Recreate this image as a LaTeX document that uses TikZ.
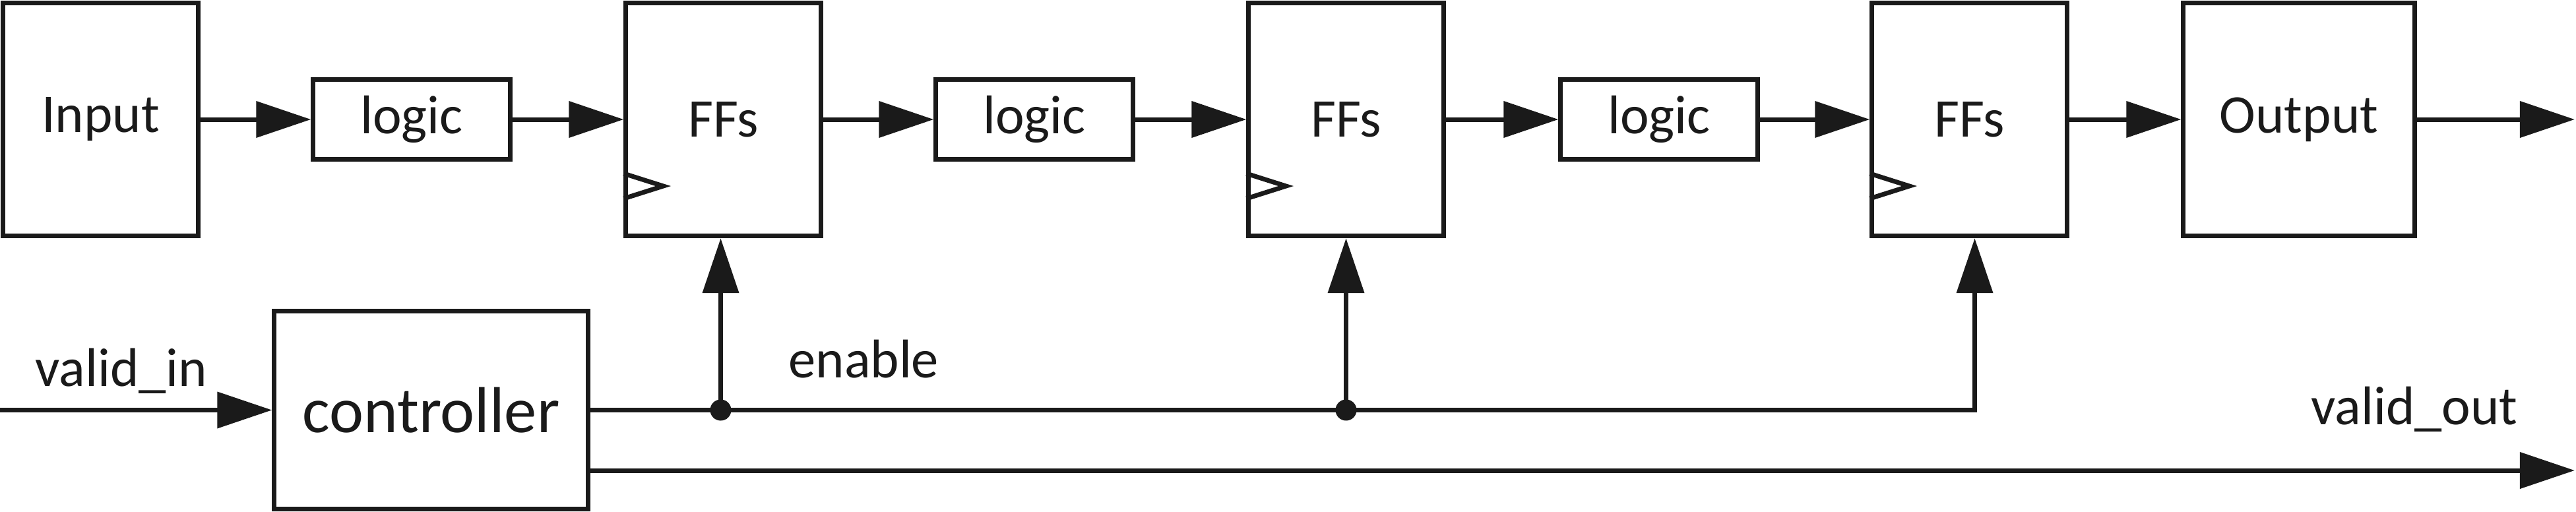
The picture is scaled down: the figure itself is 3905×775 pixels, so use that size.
\documentclass[tikz,border=0pt]{standalone}
\usepackage{fontspec}
\setmainfont{Carlito}
\usetikzlibrary{arrows.meta,calc}
\definecolor{ink}{RGB}{26,26,26}
\begin{document}
\begin{tikzpicture}[x=0.01cm,y=-0.01cm, line width=0.07cm, draw=ink, ink,
  box/.style={draw=ink, line width=0.07cm, inner sep=0pt, text=ink,
              font=\fontsize{23.5}{28}\selectfont},
  bigbox/.style={box, minimum width=2.95cm, minimum height=3.53cm},
  logicbox/.style={box, minimum width=2.98cm, minimum height=1.20cm},
  arr/.style={-{Triangle[length=0.83cm,width=0.54cm]}},
  lbl/.style={font=\fontsize{23.5}{28}\selectfont, text=ink, inner sep=0pt},
  dot/.style={circle, fill=ink, draw=none, inner sep=0pt, minimum size=0.32cm},
  clk/.style={line width=0.07cm, line join=miter}]
\useasboundingbox (0,0) rectangle (3905,775);

% top row
\node[bigbox] (inp) at (152.5,181) {Input};
\node[logicbox] (l1) at (624,181) {logic};
\node[bigbox] (ff1) at (1096.5,181) {FFs};
\node[logicbox] (l2) at (1568,181) {logic};
\node[bigbox] (ff2) at (2040.5,181) {FFs};
\node[logicbox] (l3) at (2515,181) {logic};
\node[bigbox] (ff3) at (2985.5,181) {FFs};
\node[box, minimum width=3.50cm, minimum height=3.53cm] (out) at (3485,181) {Output};
\coordinate (oend) at (3903,181);

% clock marks
\foreach \f in {ff1,ff2,ff3}{
  \draw[clk] ($(\f.west)+(0,82)$) -- ($(\f.west)+(60,101)$) -- ($(\f.west)+(0,120)$);
}

% data path
\draw[arr] (inp) -- (l1);
\draw[arr] (l1) -- (ff1);
\draw[arr] (ff1) -- (l2);
\draw[arr] (l2) -- (ff2);
\draw[arr] (ff2) -- (l3);
\draw[arr] (l3) -- (ff3);
\draw[arr] (ff3) -- (out);
\draw[arr] (out) -- (oend);

% controller
\node[box, minimum width=4.75cm, minimum height=2.99cm,
      font=\fontsize{28}{33}\selectfont] (ctrl) at (653.5,621.5) {controller};
\coordinate (vin) at (0,621.5);
\draw[arr] (vin) -- (ctrl.west);
\node[lbl, anchor=base west] (vinl) at (50,585) {valid\_in};

% enable
\coordinate (f1in) at ($(ff1.south)+(-4,0)$);
\coordinate (f3in) at ($(ff3.south)+(8,0)$);
\coordinate (d1) at (f1in |- ctrl.east);
\coordinate (d2) at (ff2.south |- ctrl.east);
\coordinate (c3) at (f3in |- ctrl.east);
\draw[arr, line join=miter] (ctrl.east) -- (c3) -- (f3in);
\draw[arr] (d1) -- (f1in);
\draw[arr] (d2) -- (ff2.south);
\node[dot] (dot1) at (d1) {};
\node[dot] (dot2) at (d2) {};
\node[lbl, anchor=base west] (enl) at (1192,572) {enable};

% valid_out
\coordinate (vout) at (3903,713);
\draw[arr] (ctrl.east |- vout) -- (vout);
\node[lbl, anchor=base east] (voutl) at (3820,643) {valid\_out};
\end{tikzpicture}
\end{document}
